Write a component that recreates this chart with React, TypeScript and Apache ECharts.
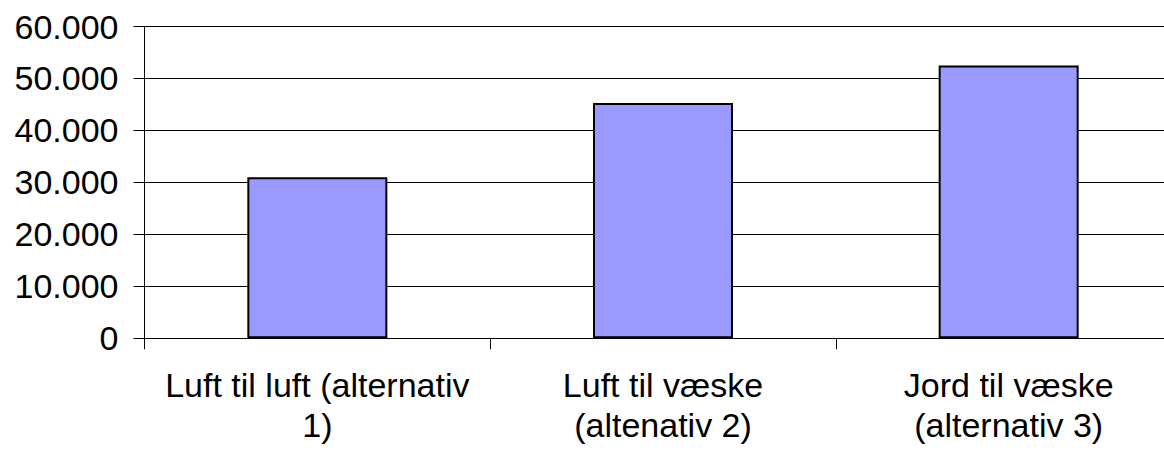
import React, { useEffect, useRef } from "react";
import * as echarts from "echarts";

const categories = [
  "Luft til luft (alternativ\n1)",
  "Luft til væske\n(altenativ 2)",
  "Jord til væske\n(alternativ 3)",
];
const values = [31000, 45300, 52500];
const yTicks = { min: 0, max: 60000, interval: 10000 };

function fmt(v: number): string {
  return String(Math.round(v)).replace(/\B(?=(\d{3})+(?!\d))/g, ".");
}

export default function App() {
  const ref = useRef<HTMLDivElement>(null);
  useEffect(() => {
    document.body.style.margin = "0";
    const chart = echarts.init(ref.current!, null, { renderer: "svg" });
    chart.setOption({
      animation: false,
      backgroundColor: "#ffffff",
      grid: { left: 144.5, top: 26.5, width: 1037, height: 311.8, containLabel: false },
      xAxis: {
        type: "category",
        data: categories,
        axisLine: { show: true, lineStyle: { color: "#000", width: 1 } },
        axisTick: { show: true, length: 11, lineStyle: { color: "#000", width: 1 } },
        axisLabel: {
          interval: 0,
          color: "#000",
          fontFamily: "Liberation Sans, Arial, sans-serif",
          fontSize: 34,
          lineHeight: 40,
          margin: 27,
        },
      },
      yAxis: {
        type: "value",
        min: yTicks.min,
        max: yTicks.max,
        interval: yTicks.interval,
        axisLine: { show: true, lineStyle: { color: "#000", width: 1 } },
        axisTick: { show: true, length: 11, lineStyle: { color: "#000", width: 1 } },
        splitLine: { show: true, lineStyle: { color: "#000", width: 1 } },
        axisLabel: {
          color: "#000",
          fontFamily: "Liberation Sans, Arial, sans-serif",
          fontSize: 34,
          margin: 26,
          formatter: (v: number) => fmt(v),
        },
      },
      series: [
        {
          type: "bar",
          data: values,
          barWidth: 140,
          itemStyle: { color: "#9999FF", borderColor: "#000", borderWidth: 2 },
        },
      ],
    });
    return () => chart.dispose();
  }, []);
  return (
    <div style={{ width: 1164, height: 451, overflow: "hidden", position: "relative" }}>
      <div ref={ref} style={{ width: 1200, height: 451 }} />
    </div>
  );
}
